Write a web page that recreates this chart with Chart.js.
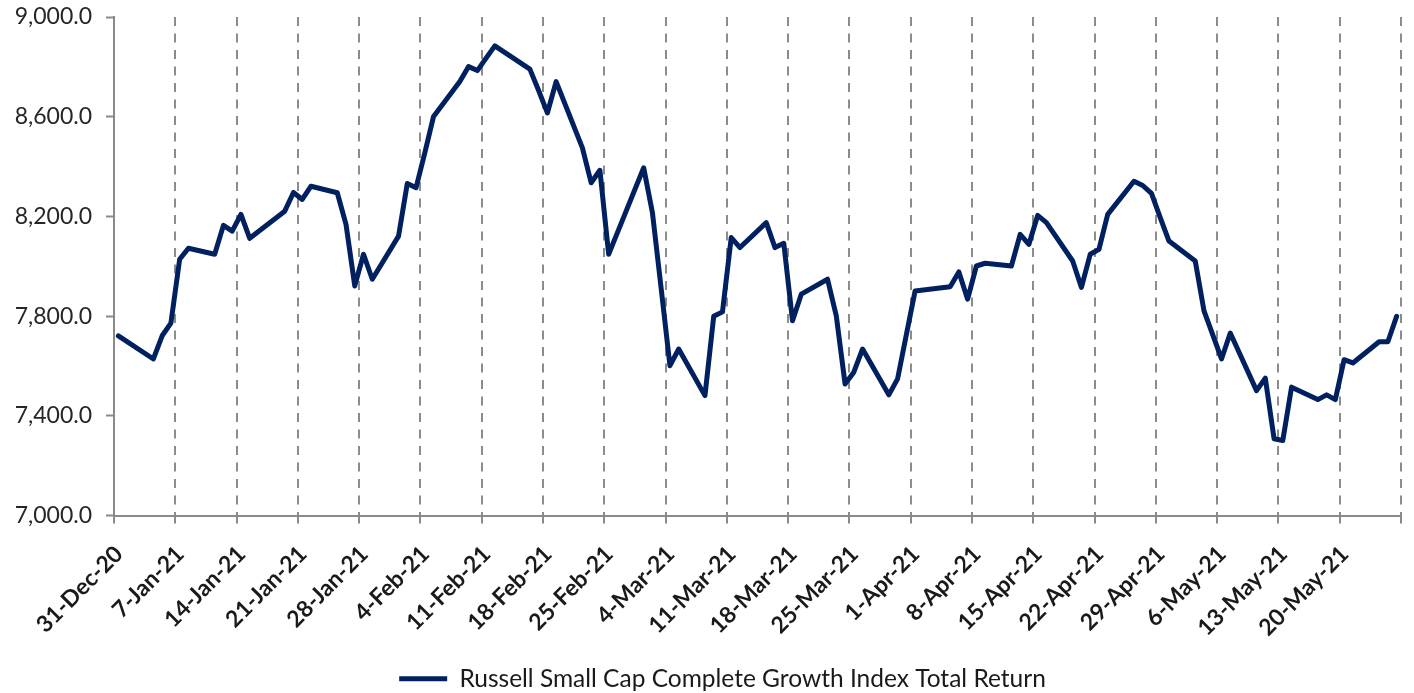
<!DOCTYPE html>
<html>
<head>
<meta charset="utf-8">
<script src="https://cdn.jsdelivr.net/npm/chart.js@4.4.1/dist/chart.umd.min.js"></script>
<style>
  html, body { margin: 0; padding: 0; background: #ffffff; }
  #wrap { width: 1414px; height: 693px; position: relative; }
</style>
</head>
<body>
<div id="wrap"><canvas id="c" width="1414" height="693"></canvas></div>
<script>
// ---- data ----
const seriesName = 'Russell Small Cap Complete Growth Index Total Return';
const startDate = '2020-12-31';
const endDate = '2021-05-27';
const tickLabels = ['31-Dec-20','7-Jan-21','14-Jan-21','21-Jan-21','28-Jan-21','4-Feb-21','11-Feb-21',
  '18-Feb-21','25-Feb-21','4-Mar-21','11-Mar-21','18-Mar-21','25-Mar-21','1-Apr-21','8-Apr-21',
  '15-Apr-21','22-Apr-21','29-Apr-21','6-May-21','13-May-21','20-May-21',''];
const dates = [
  '2020-12-31','2021-01-04','2021-01-05','2021-01-06','2021-01-07','2021-01-08',
  '2021-01-11','2021-01-12','2021-01-13','2021-01-14','2021-01-15',
  '2021-01-19','2021-01-20','2021-01-21','2021-01-22',
  '2021-01-25','2021-01-26','2021-01-27','2021-01-28','2021-01-29',
  '2021-02-01','2021-02-02','2021-02-03','2021-02-04','2021-02-05',
  '2021-02-08','2021-02-09','2021-02-10','2021-02-11','2021-02-12',
  '2021-02-16','2021-02-17','2021-02-18','2021-02-19',
  '2021-02-22','2021-02-23','2021-02-24','2021-02-25','2021-02-26',
  '2021-03-01','2021-03-02','2021-03-03','2021-03-04','2021-03-05',
  '2021-03-08','2021-03-09','2021-03-10','2021-03-11','2021-03-12',
  '2021-03-15','2021-03-16','2021-03-17','2021-03-18','2021-03-19',
  '2021-03-22','2021-03-23','2021-03-24','2021-03-25','2021-03-26',
  '2021-03-29','2021-03-30','2021-03-31','2021-04-01',
  '2021-04-05','2021-04-06','2021-04-07','2021-04-08','2021-04-09',
  '2021-04-12','2021-04-13','2021-04-14','2021-04-15','2021-04-16',
  '2021-04-19','2021-04-20','2021-04-21','2021-04-22','2021-04-23',
  '2021-04-26','2021-04-27','2021-04-28','2021-04-29','2021-04-30',
  '2021-05-03','2021-05-04','2021-05-05','2021-05-06','2021-05-07',
  '2021-05-10','2021-05-11','2021-05-12','2021-05-13','2021-05-14',
  '2021-05-17','2021-05-18','2021-05-19','2021-05-20','2021-05-21',
  '2021-05-24','2021-05-25','2021-05-26'
];
const values = [
  7721,7628,7721,7772,8028,8072,
  8048,8164,8141,8208,8112,
  8221,8296,8268,8321,
  8295,8168,7921,8048,7948,
  8121,8332,8315,8455,8601,
  8741,8801,8785,8835,8884,
  8791,8705,8615,8741,
  8475,8335,8385,8048,8135,
  8395,8215,7910,7601,7668,
  7481,7799,7817,8115,8075,
  8175,8075,8092,7781,7888,
  7948,7801,7528,7575,7668,
  7484,7548,7725,7901,
  7918,7977,7868,8001,8012,
  8001,8128,8088,8204,8175,
  8021,7915,8048,8068,8208,
  8341,8324,8292,8195,8101,
  8021,7821,7725,7628,7732,
  7501,7551,7308,7301,7515,
  7465,7484,7465,7625,7612,
  7697,7697,7799
];
const yMin = 7000, yMax = 9000, yStep = 400;

// ---- build ----
const DAY = 86400000;
const t0 = Date.parse(startDate + 'T00:00:00Z');
const dayOf = d => (Date.parse(d + 'T00:00:00Z') - t0) / DAY;
const points = dates.map((d, i) => ({ x: dayOf(d) + 0.5, y: values[i] }));
const xMax = dayOf(endDate);

const lineColor = '#002060';
const axisColor = '#8a8a8a';

const legendShift = {
  id: 'legendShift',
  afterLayout(chart) {
    const l = chart.legend;
    if (!l) return;
    l.top += 8; l.bottom += 8;
    l.left += 22; l.right += 22;
  }
};

new Chart(document.getElementById('c'), {
  type: 'line',
  data: {
    datasets: [{
      label: seriesName,
      data: points,
      borderColor: lineColor,
      backgroundColor: lineColor,
      borderWidth: 5,
      pointRadius: 0,
      tension: 0,
      borderJoinStyle: 'round',
      borderCapStyle: 'round'
    }]
  },
  plugins: [legendShift],
  options: {
    responsive: false,
    animation: false,
    layout: { padding: { top: 17, right: 13, left: 0, bottom: 0 } },
    plugins: {
      tooltip: { enabled: false },
      legend: {
        position: 'bottom',
        labels: {
          font: { family: 'Lato', size: 24.5 },
          color: '#1a1a1a',
          boxWidth: 48,
          boxHeight: 5,
          padding: 4,
          generateLabels: (chart) => {
            const items = Chart.defaults.plugins.legend.labels.generateLabels(chart);
            items.forEach(it => { it.lineWidth = 0; it.fillStyle = lineColor; });
            return items;
          }
        }
      }
    },
    scales: {
      x: {
        type: 'linear',
        min: 0,
        max: xMax,
        afterBuildTicks: (scale) => {
          const t = [];
          for (let v = 0; v <= xMax; v += 7) t.push({ value: v });
          scale.ticks = t;
        },
        afterFit: (scale) => {
          scale.height = 139;
          scale.paddingLeft = 0; scale.paddingRight = 0;
        },
        border: { display: true, color: axisColor, width: 2, dash: [9, 7.5] },
        grid: {
          display: true,
          drawOnChartArea: true,
          drawTicks: true,
          color: '#8c8c8c',
          lineWidth: 2,
          tickColor: axisColor,
          tickLength: 8,
          tickWidth: 2,
          tickBorderDash: []
        },
        ticks: {
          autoSkip: false,
          maxRotation: 45,
          minRotation: 45,
          padding: 17,
          labelOffset: 5,
          color: '#1a1a1a',
          font: { family: 'Lato', size: 23, weight: 'bold' },
          callback: (v, i) => tickLabels[i] !== undefined ? tickLabels[i] : ''
        }
      },
      y: {
        min: yMin,
        max: yMax,
        afterFit: (scale) => {
          scale.width = 114;
          scale.paddingTop = 0; scale.paddingBottom = 0;
        },
        border: { display: true, color: axisColor, width: 2 },
        grid: {
          display: true,
          drawOnChartArea: false,
          drawTicks: true,
          tickLength: 8,
          tickColor: axisColor,
          tickWidth: 2
        },
        ticks: {
          stepSize: yStep,
          padding: 14,
          color: '#262626',
          font: { family: 'Lato', size: 23 },
          callback: (v) => Number(v).toLocaleString('en-US', { minimumFractionDigits: 1, maximumFractionDigits: 1 })
        }
      }
    }
  }
});
</script>
</body>
</html>
